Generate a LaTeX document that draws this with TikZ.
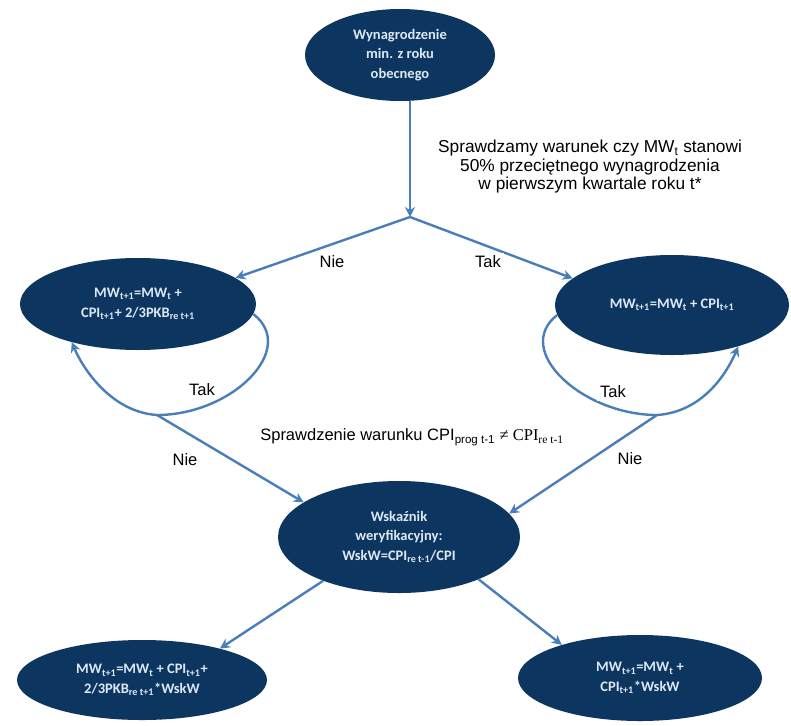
\documentclass[tikz,border=0pt]{standalone}
\usepackage{fontspec}
\setmainfont{Liberation Sans}
\newfontfamily\elfont{Carlito}
\newfontfamily\serifx{Liberation Serif}
\usetikzlibrary{shapes.geometric,arrows.meta}
\definecolor{navy}{HTML}{0C3660}
\definecolor{arrowblue}{HTML}{4A7EBB}
\definecolor{eltext}{HTML}{DDE8F4}
\newcommand\sbx[1]{\textsubscript{#1}}
\begin{document}
\begin{tikzpicture}[x=1pt,y=-1pt,
  el/.style={ellipse,fill=navy,draw=none,inner sep=0pt,text=eltext,
    font=\elfont\bfseries\fontsize{14.5}{19.5}\selectfont,align=center},
  arr/.style={draw=arrowblue,line width=2.4pt,-{Stealth[length=10pt,width=10pt]}},
  lbl/.style={fill=white,inner sep=3pt,font=\fontsize{16.5}{18.5}\selectfont,align=center}]
\useasboundingbox[fill=white] (0,0) rectangle (791,725);
% ellipses
\node[el,minimum width=190pt,minimum height=92pt] (T) at (400,55)
  {Wynagrodzenie\\min. z roku\\obecnego};
\node[el,minimum width=236pt,minimum height=92pt] (L) at (138,304)
  {MW\sbx{t+1}=MW\sbx{t} +\\CPI\sbx{t+1}+ 2/3PKB\sbx{re t+1}};
\node[el,minimum width=234pt,minimum height=100pt] (R) at (672,305)
  {MW\sbx{t+1}=MW\sbx{t} + CPI\sbx{t+1}};
\node[el,minimum width=242pt,minimum height=112pt] (C) at (399,537)
  {Wskaźnik\\weryfikacyjny:\\WskW=CPI\sbx{re t-1}/CPI};
\node[el,minimum width=250pt,minimum height=80pt] (BL) at (142,680)
  {MW\sbx{t+1}=MW\sbx{t} + CPI\sbx{t+1}+\\2/3PKB\sbx{re t+1}*WskW};
\node[el,minimum width=244pt,minimum height=86pt] (BR) at (640,678)
  {MW\sbx{t+1}=MW\sbx{t} +\\CPI\sbx{t+1}*WskW};
% coordinates
\coordinate (J) at (410,217);
\coordinate (lbL) at (157,415);
\coordinate (lbR) at (657,415);
% connectors
\draw[arr] (T.south -| J) -- (J);
\draw[arr] (J) -- (L.15);
\draw[arr] (J) -- (R.165);
\draw[arr] (L.-5) .. controls +(45,35) and +(75,0) .. (lbL)
  .. controls +(-45,-3) and +(12,28) .. (L.-150);
\draw[arr] (R.185) .. controls +(-45,35) and +(-75,0) .. (lbR)
  .. controls +(45,-3) and +(-12,28) .. (R.-32);
\draw[arr] (lbL) -- (C.160);
\draw[arr] (lbR) -- (C.12);
\draw[arr] (C.-150) -- (BL.22);
\draw[arr] (C.-28) -- (BR.157);
% labels
\node[lbl,font=\fontsize{17.3}{18.5}\selectfont] (q1) at (590,167) {Sprawdzamy warunek czy MW\sbx{t} stanowi\\50\% przeciętnego wynagrodzenia\\w pierwszym kwartale roku t*};
\node[lbl] (n1) at (332,262) {Nie};
\node[lbl] (t1) at (488,262) {Tak};
\node[lbl] (tL) at (202,390) {Tak};
\node[lbl] (tR) at (613,392) {Tak};
\node[lbl] (q2) at (412,437) {Sprawdzenie warunku CPI\sbx{prog t-1} {\serifx ≠ CPI\sbx{re t-1}}};
\node[lbl] (nL) at (185,460) {Nie};
\node[lbl] (nR) at (630,459) {Nie};
\end{tikzpicture}
\end{document}
